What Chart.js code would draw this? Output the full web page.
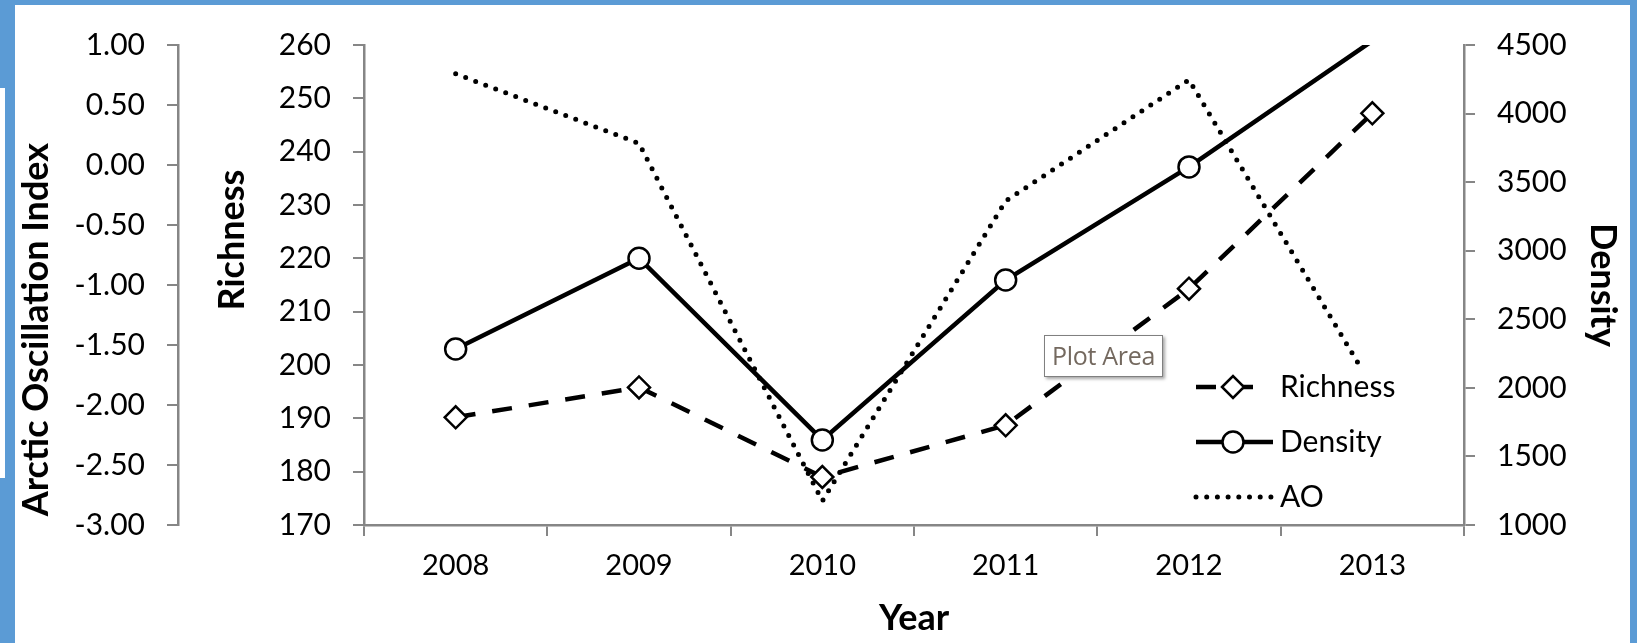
<!DOCTYPE html>
<html>
<head>
<meta charset="utf-8">
<script src="https://cdn.jsdelivr.net/npm/chart.js@4.4.1/dist/chart.umd.min.js"></script>
<style>
  html, body { margin: 0; padding: 0; }
  body { width: 1637px; height: 643px; background: #5b9bd5; position: relative; overflow: hidden; }
  #sliver { position: absolute; left: 0; top: 88px; width: 5px; height: 390px; background: #fff; }
  #frame { position: absolute; left: 15px; top: 5px; width: 1615px; height: 638px; background: #fff; }
  #tip {
    position: absolute; left: 1044px; top: 335px; width: 119px; height: 42px;
    box-sizing: border-box; border: 1px solid #808080; background: #fff;
    box-shadow: 2px 2px 3px rgba(0, 0, 0, 0.35);
    font: 25px 'Open Sans', sans-serif; color: #74695f; line-height: 38px; padding-left: 7px;
    letter-spacing: -0.3px;
  }
</style>
</head>
<body>
<div id="sliver"></div>
<div id="frame"><canvas id="chart" width="1615" height="638"></canvas></div>
<div id="tip">Plot Area</div>
<script>
const years = ['2008', '2009', '2010', '2011', '2012', '2013'];
const richness = [190.2, 195.8, 179.0, 188.7, 214.3, 247.2];
const density = [2283, 2945, 1620, 2786, 3611, 4530];
const ao = [0.76, 0.18, -2.8, -0.30, 0.71, -1.85];

const axisGrey = '#868686';
const tickFont = { family: 'Lato', size: 30 };
const titleFont = { family: 'Lato', size: 36, weight: 'bold' };
const densityMax = 4500;

// excel style legend: white box drawn over the lines
const boxLegend = {
  id: 'boxLegend',
  afterDatasetsDraw(chart, args, opts) {
    const ctx = chart.ctx;
    ctx.save();
    ctx.fillStyle = '#fff';
    ctx.fillRect(opts.x, opts.y, opts.width, opts.height);
    chart.data.datasets.forEach((ds, i) => {
      const y = opts.y + opts.firstRow + i * opts.rowGap;
      ctx.beginPath();
      ctx.setLineDash(ds.borderDash || []);
      ctx.lineCap = ds.borderCapStyle || 'butt';
      ctx.lineWidth = ds.borderWidth;
      ctx.strokeStyle = ds.borderColor;
      ctx.moveTo(opts.lineStart, y);
      ctx.lineTo(opts.lineEnd[i], y);
      ctx.stroke();
      ctx.setLineDash([]);
      if (ds.pointStyle && opts.marker[i]) {
        ctx.fillStyle = '#fff';
        ctx.strokeStyle = '#000';
        ctx.lineWidth = ds.pointBorderWidth;
        Chart.helpers.drawPoint(ctx, {
          pointStyle: ds.pointStyle, radius: opts.marker[i], borderWidth: ds.pointBorderWidth, rotation: 0
        }, opts.markerX, y);
      }
      ctx.fillStyle = '#000';
      ctx.font = '30px Lato';
      ctx.textBaseline = 'middle';
      ctx.textAlign = 'left';
      ctx.fillText(ds.label, opts.textX, y);
    });
    ctx.restore();
  }
};

const ctx = document.getElementById('chart').getContext('2d');
const chart = new Chart(ctx, {
  type: 'line',
  data: {
    labels: years,
    datasets: [{
      label: 'Richness',
      data: richness,
      yAxisID: 'richness',
      borderColor: '#000',
      borderWidth: 4.5,
      borderDash: [20, 17],
      pointStyle: 'rectRot',
      pointRadius: 11,
      pointBorderWidth: 2.5,
      pointBackgroundColor: '#fff',
      pointBorderColor: '#000'
    }, {
      label: 'Density',
      data: density,
      yAxisID: 'density',
      borderColor: '#000',
      borderWidth: 4.5,
      clip: 0,
      pointStyle: 'circle',
      pointRadius: (c) => c.raw > densityMax ? 0 : 10.5,
      pointBorderWidth: 2.5,
      pointBackgroundColor: '#fff',
      pointBorderColor: '#000'
    }, {
      label: 'AO',
      data: ao,
      yAxisID: 'ao',
      borderColor: '#000',
      borderWidth: 5,
      borderDash: [0, 10.7],
      borderCapStyle: 'round',
      pointRadius: 0
    }]
  },
  options: {
    responsive: false,
    animation: false,
    devicePixelRatio: 1,
    events: [],
    layout: { padding: { top: 40, left: 0, right: 0, bottom: 0 } },
    plugins: {
      legend: { display: false },
      tooltip: { enabled: false },
      boxLegend: {
        x: 1173, y: 363, width: 222, height: 148,
        firstRow: 19, rowGap: 55,
        lineStart: 1181, lineEnd: [1242, 1258, 1260],
        marker: [11, 10.5, 0], markerX: 1218, textX: 1265
      }
    },
    scales: {
      x: {
        offset: true,
        grid: { offset: true, drawOnChartArea: false, tickLength: 11, color: axisGrey, lineWidth: 2 },
        border: { color: axisGrey, width: 2.5 },
        ticks: { font: { family: 'Lato', size: 29 }, color: '#000', padding: 12, maxRotation: 0 },
        title: { display: true, text: 'Year', font: titleFont, color: '#000', padding: { bottom: 3 } },
        afterFit: (s) => { s.height = 118; }
      },
      ao: {
        position: 'left',
        weight: 1,
        min: -3,
        max: 1,
        ticks: { stepSize: 0.5, callback: (v) => v.toFixed(2), font: tickFont, color: '#000', padding: 22 },
        grid: { drawOnChartArea: false, tickLength: 11, color: axisGrey, lineWidth: 2 },
        border: { color: axisGrey, width: 2.5 },
        title: { display: true, text: ' Arctic Oscillation Index', align: 'start', font: titleFont, color: '#000', padding: { top: 0 } },
        afterFit: (s) => { s.width = 163; }
      },
      richness: {
        position: 'left',
        weight: 0,
        min: 170,
        max: 260,
        ticks: { stepSize: 10, font: tickFont, color: '#000', padding: 22 },
        grid: { drawOnChartArea: false, tickLength: 11, color: axisGrey, lineWidth: 2 },
        border: { color: axisGrey, width: 2.5 },
        title: { display: true, text: '\u2002\u2002\u2002\u2002\u2002Richness', font: titleFont, color: '#000', padding: { top: 33 } },
        afterFit: (s) => { s.width = 186; }
      },
      density: {
        position: 'right',
        min: 1000,
        max: densityMax,
        ticks: { stepSize: 500, callback: (v) => String(v), font: tickFont, color: '#000', padding: 22 },
        grid: { drawOnChartArea: false, tickLength: 11, color: axisGrey, lineWidth: 2 },
        border: { color: axisGrey, width: 2.5 },
        title: { display: true, text: 'Density', font: titleFont, color: '#000', padding: { top: 6 } },
        afterFit: (s) => { s.width = 166; }
      }
    }
  },
  plugins: [boxLegend]
});
</script>
</body>
</html>
